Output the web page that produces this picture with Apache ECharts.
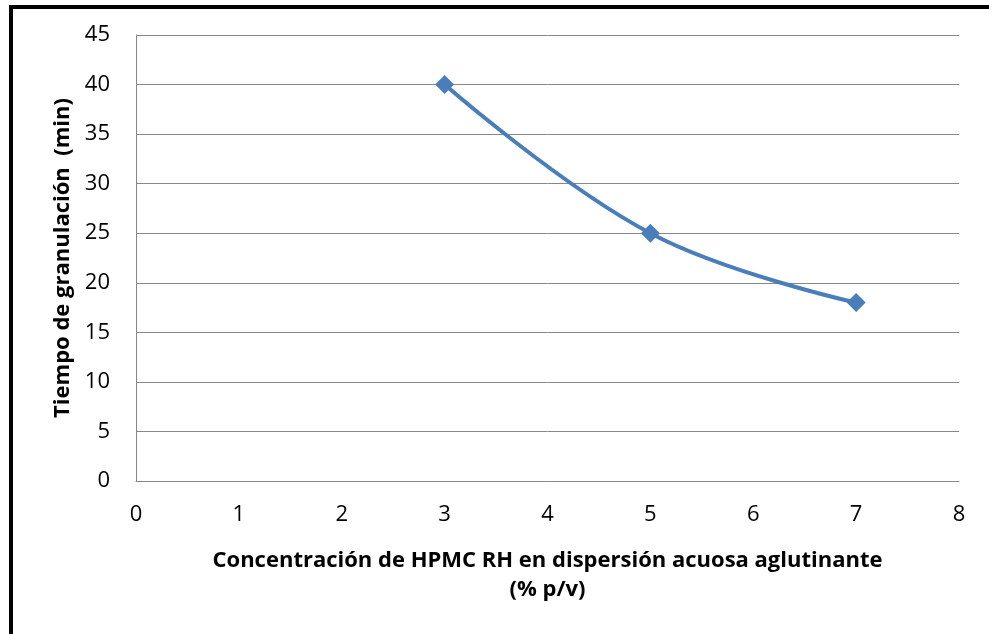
<!DOCTYPE html>
<html>
<head>
<meta charset="utf-8">
<script src="https://cdn.jsdelivr.net/npm/echarts@6/dist/echarts.min.js"></script>
<style>
  body { margin: 0; background: #fff; }
  #frame { position: absolute; left: 9px; top: 5px; width: 1000px; height: 700px;
           border-left: 4px solid #000; border-top: 4px solid #000; }
  #main { position: absolute; left: 0; top: 0; width: 989px; height: 634px; }
</style>
</head>
<body>
<div id="frame"></div>
<div id="main"></div>
<script>
// concentración (% p/v) y tiempo de granulación (min)
const concentracion = [3, 5, 7]
const tiempo = [40, 25, 18]

const chart = echarts.init(document.getElementById('main'))

chart.setOption({
  backgroundColor: 'transparent',
  animation: false,
  grid: { left: 136, right: 30, top: 35, bottom: 153 },
  xAxis: {
    type: 'value',
    min: 0, max: 8, interval: 1,
    name: 'Concentración de HPMC RH en dispersión acuosa aglutinante\n(% p/v)',
    nameLocation: 'middle',
    nameGap: 65,
    nameTextStyle: { fontFamily: 'Open Sans', fontWeight: 'bold', fontSize: 22, color: '#000', lineHeight: 29 },
    axisLine: { lineStyle: { color: '#888', width: 1 } },
    axisTick: { show: false },
    axisLabel: { fontFamily: 'Open Sans', fontSize: 22, color: '#000', margin: 23 },
    splitLine: { show: false }
  },
  yAxis: {
    type: 'value',
    min: 0, max: 45, interval: 5,
    name: 'Tiempo de granulación  (min)',
    nameLocation: 'middle',
    nameGap: 62,
    nameTextStyle: { fontFamily: 'Open Sans', fontWeight: 'bold', fontSize: 22, color: '#000' },
    axisLine: { show: true, lineStyle: { color: '#888', width: 1 } },
    axisTick: { show: false },
    axisLabel: { fontFamily: 'Open Sans', fontSize: 22, color: '#000', margin: 26 },
    splitLine: { lineStyle: { color: '#888', width: 1 } }
  },
  series: [{
    type: 'line',
    data: concentracion.map((x, i) => [x, tiempo[i]]),
    smooth: 0.4,
    symbol: 'diamond',
    symbolSize: 19,
    lineStyle: { color: '#4a7ebb', width: 4 },
    itemStyle: { color: '#4a7ebb' }
  }]
})
</script>
</body>
</html>
